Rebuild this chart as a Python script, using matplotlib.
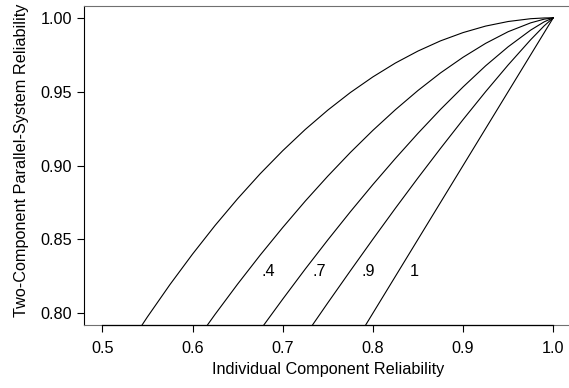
import matplotlib
matplotlib.use('Agg')
import matplotlib.pyplot as plt

plt.rcParams['font.family'] = ['Liberation Sans', 'DejaVu Sans']

# individual component reliability (x) and system reliability
comp_rel = [0.50, 0.525, 0.55, 0.575, 0.60, 0.625, 0.65, 0.675, 0.70, 0.725, 0.75,
            0.775, 0.80, 0.825, 0.85, 0.875, 0.90, 0.925, 0.95, 0.975, 0.99, 1.00]
sys_rho0 = [0.750, 0.7744, 0.7975, 0.8194, 0.840, 0.8594, 0.8775, 0.8944, 0.910, 0.9244, 0.9375,
            0.9494, 0.960, 0.9694, 0.9775, 0.9844, 0.990, 0.9944, 0.9975, 0.9994, 0.9999, 1.000]
sys_rho4 = [0.6845, 0.7091, 0.7329, 0.7558, 0.7779, 0.7992, 0.8197, 0.8393, 0.8580, 0.8759, 0.8928,
            0.9088, 0.9238, 0.9378, 0.9508, 0.9627, 0.9733, 0.9827, 0.9906, 0.9966, 0.9991, 1.000]
sys_rho7 = [0.6266, 0.6514, 0.6756, 0.6993, 0.7224, 0.7450, 0.7671, 0.7886, 0.8095, 0.8299, 0.8496,
            0.8687, 0.8871, 0.9048, 0.9218, 0.9380, 0.9532, 0.9675, 0.9804, 0.9917, 0.9973, 1.000]
sys_rho9 = [0.5718, 0.5966, 0.6212, 0.6455, 0.6695, 0.6932, 0.7166, 0.7397, 0.7624, 0.7849, 0.8070,
            0.8287, 0.8501, 0.8711, 0.8916, 0.9116, 0.9311, 0.9500, 0.9681, 0.9852, 0.9946, 1.000]
rho1_x = [0.75, 1.00]
rho1_y = [0.75, 1.00]

curve_labels = ['.4', '.7', '.9', '1']
curve_label_x = [0.684, 0.741, 0.795, 0.846]
curve_label_y = 0.828

xticks = [0.5, 0.6, 0.7, 0.8, 0.9, 1.0]
yticks = [0.80, 0.85, 0.90, 0.95, 1.00]

fs = 11.7
fig = plt.figure(figsize=(5.69, 3.88), dpi=100)
ax = fig.add_axes([84.3 / 569, 63 / 388, 487 / 569, 319 / 388])

for ys in [sys_rho0, sys_rho4, sys_rho7, sys_rho9]:
    ax.plot(comp_rel, ys, color='black', linewidth=0.8)
ax.plot(rho1_x, rho1_y, color='black', linewidth=0.8)

for lab, lx in zip(curve_labels, curve_label_x):
    ax.text(lx, curve_label_y, lab, fontsize=fs, ha='center', va='center')

ax.set_xlim(0.48, 1.02)
ax.set_ylim(0.792, 1.008)
ax.set_xticks(xticks)
ax.set_xticklabels(['0.5', '0.6', '0.7', '0.8', '0.9', '1.0'])
ax.set_yticks(yticks)
ax.set_yticklabels(['0.80', '0.85', '0.90', '0.95', '1.00'])
ax.tick_params(axis='both', direction='out', length=5, width=0.8, labelsize=fs, color='black')
ax.tick_params(axis='x', pad=6.5)
ax.tick_params(axis='y', pad=4)

for s in ['top', 'bottom', 'right']:
    ax.spines[s].set_color('#707070')
    ax.spines[s].set_linewidth(0.8)
ax.spines['left'].set_color('black')
ax.spines['left'].set_linewidth(0.8)

# R-style axis line between the first and last tick
ax.plot([0.5, 1.0], [0.792, 0.792], color='black', linewidth=0.9, clip_on=False, zorder=5)

ax.set_xlabel('Individual Component Reliability', fontsize=fs)
ax.set_ylabel('Two-Component Parallel-System Reliability', fontsize=fs)
ax.xaxis.set_label_coords(0.5, -0.138)
ax.xaxis.label.set_verticalalignment('center')
ax.yaxis.set_label_coords(-0.128, 0.517)
ax.yaxis.label.set_verticalalignment('center')

fig.savefig('out.png', dpi=100)
